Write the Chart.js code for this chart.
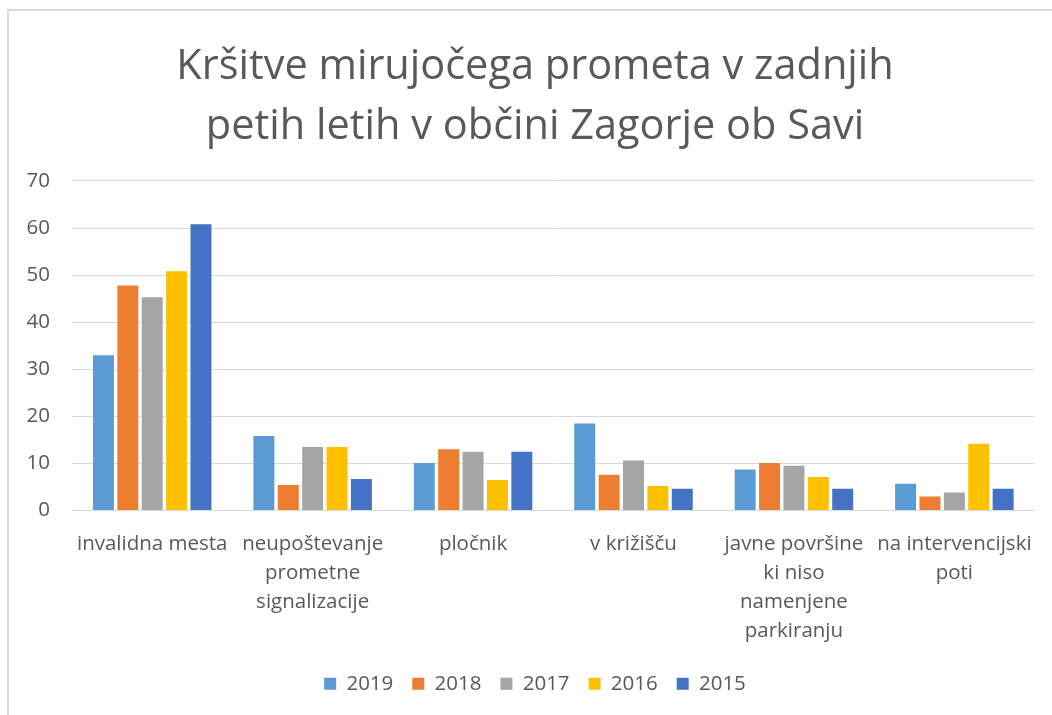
<!DOCTYPE html>
<html><head><meta charset="utf-8">
<script src="https://cdn.jsdelivr.net/npm/chart.js@4.4.1/dist/chart.umd.min.js"></script>
<style>html,body{margin:0;padding:0;background:#fff;overflow:hidden;}
#wrap{position:relative;width:1052px;height:715px;overflow:hidden;}
#frame{position:absolute;left:7px;top:9px;width:2000px;height:2000px;border-top:2px solid #d9d9d9;border-left:2px solid #d9d9d9;pointer-events:none;}
canvas{position:absolute;left:0;top:0;}</style>
</head><body><div id="wrap"><div id="frame"></div><canvas id="c" width="1052" height="715"></canvas></div>
<script>
const titleLines = ['Kršitve mirujočega prometa v zadnjih', 'petih letih v občini Zagorje ob Savi'];
const categories = [
  'invalidna mesta',
  ['neupoštevanje', 'prometne', 'signalizacije'],
  'pločnik',
  'v križišču',
  ['javne površine', 'ki niso', 'namenjene', 'parkiranju'],
  ['na intervencijski', 'poti']
];
const seriesNames = ['2019', '2018', '2017', '2016', '2015'];
const values2019 = [33, 15.8, 10.1, 18.5, 8.7, 5.7];
const values2018 = [47.8, 5.4, 13.0, 7.6, 10.1, 3.0];
const values2017 = [45.3, 13.5, 12.5, 10.6, 9.5, 3.8];
const values2016 = [50.8, 13.5, 6.5, 5.2, 7.1, 14.2];
const values2015 = [60.8, 6.7, 12.5, 4.6, 4.6, 4.6];
const yTicks = [0, 10, 20, 30, 40, 50, 60, 70];
const colors = ['#5B9BD5', '#ED7D31', '#A5A5A5', '#FFC000', '#4472C4'];

const allValues = [values2019, values2018, values2017, values2016, values2015];
const FONT = '"Open Sans", sans-serif';
const TXT = '#595959';

document.fonts.load('20px "Open Sans"').then(draw, draw);
function draw(){
new Chart(document.getElementById('c'), {
  type: 'bar',
  data: {
    labels: categories,
    datasets: seriesNames.map((n, i) => ({
      label: n, data: allValues[i], backgroundColor: colors[i],
      borderWidth: 0, categoryPercentage: 0.76, barPercentage: 0.86
    }))
  },
  options: {
    responsive: false, animation: false,
    layout: { padding: { left: 18, right: 0, top: 0, bottom: 11 } },
    plugins: {
      tooltip: { enabled: false },
      title: {
        display: true, text: titleLines, color: TXT,
        font: { family: FONT, size: 41.5, weight: 'normal', lineHeight: 1.445 },
        padding: { top: 37, bottom: 24 }
      },
      legend: {
        position: 'bottom',
        labels: { color: TXT, font: { family: FONT, size: 20.5 }, boxWidth: 12, boxHeight: 12, padding: 19 }
      }
    },
    scales: {
      x: {
        grid: { display: false, drawTicks: false },
        border: { display: true, color: '#d9d9d9', width: 1 },
        ticks: { color: TXT, font: { family: FONT, size: 20.5, lineHeight: 1.41 }, padding: 19, maxRotation: 0, autoSkip: false },
        afterFit(s) { s.height = 144; }
      },
      y: {
        min: 0, max: 70,
        afterBuildTicks(s) { s.ticks = yTicks.map(v => ({ value: v })); },
        grid: { color: '#d9d9d9', lineWidth: 1, drawTicks: false },
        border: { display: false },
        ticks: { color: TXT, font: { family: FONT, size: 20.5 }, padding: 22 },
        afterFit(s) { s.width = 54; }
      },
      y2: {
        position: 'right', display: true, min: 0, max: 70,
        grid: { display: false, drawTicks: false }, border: { display: false },
        ticks: { display: false },
        afterFit(s) { s.width = 17; }
      }
    }
  }
});
}
</script></body></html>
